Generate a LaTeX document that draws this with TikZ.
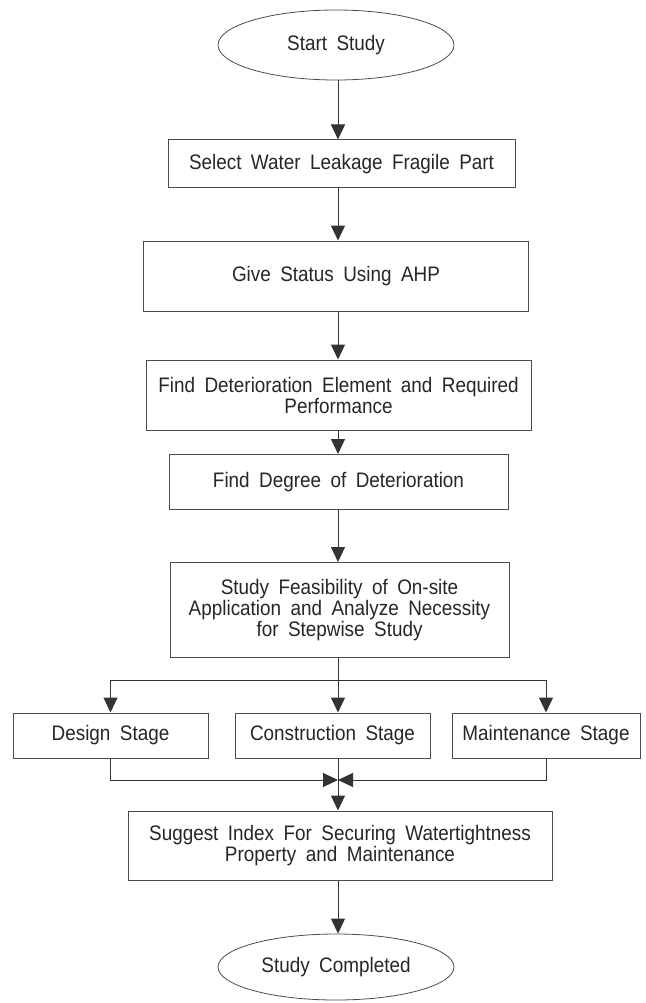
\documentclass[tikz,border=0pt]{standalone}
\usepackage{fontspec}
\setmainfont{Liberation Sans}[FakeStretch=0.9, WordSpace=1.8]
\usepackage{tikz}
\usetikzlibrary{arrows.meta, shapes.geometric, positioning}

\newcommand{\flowfont}{\fontsize{21}{21}\selectfont}

\begin{document}
\begin{tikzpicture}[x=1pt, y=-1pt, every node/.style={font=\flowfont, text=black!85},
    >={Triangle[length=15pt, width=14pt]},
    box/.style={draw=black!70, line width=1pt, align=center, inner sep=0pt},
    term/.style={draw=black!70, line width=0.8pt, ellipse, inner sep=0pt},
    link/.style={draw=black!80, line width=1pt}]
  \useasboundingbox (0,0) rectangle (645,1003);

  % Main column
  \node[term, minimum width=236pt, minimum height=70pt] (start) at (336,45) {Start Study};
  \node[box, minimum width=347pt, minimum height=48pt] (select) at (341.5,164) {Select Water Leakage Fragile Part};
  \node[box, minimum width=385pt, minimum height=70pt] (status) at (336,276) {Give Status Using AHP};
  \node[box, minimum width=385pt, minimum height=70pt] (element) at (338.5,395) {Find Deterioration Element and Required\\Performance};
  \node[box, minimum width=339pt, minimum height=55pt] (degree) at (338.5,482) {Find Degree of Deterioration};
  \node[box, minimum width=339pt, minimum height=95pt] (feasib) at (339.5,610) {Study Feasibility of On-site\\Application and Analyze Necessity\\for Stepwise Study};

  % Stages
  \node[box, minimum width=195pt, minimum height=45pt] (design) at (110.5,735.5) {Design Stage};
  \node[box, minimum width=195pt, minimum height=45pt] (construct) at (332.5,735.5) {Construction Stage};
  \node[box, minimum width=188pt, minimum height=45pt] (maint) at (546,735.5) {Maintenance Stage};

  \node[box, minimum width=424pt, minimum height=69pt] (suggest) at (340,845.5) {Suggest Index For Securing Watertightness\\Property and Maintenance};
  \node[term, minimum width=236pt, minimum height=66pt] (finish) at (336,967) {Study Completed};

  \coordinate (axis) at (338,0);
  \coordinate (fork) at (338,680);
  \coordinate (join) at (338,780);

  \draw[link, ->] (start.south -| axis) -- (select.north -| axis);
  \draw[link, ->] (select.south -| axis) -- (status.north -| axis);
  \draw[link, ->] (status.south -| axis) -- (element.north -| axis);
  \draw[link, ->] (element.south -| axis) -- (degree.north -| axis);
  \draw[link, ->] (degree.south -| axis) -- (feasib.north -| axis);
  \draw[link, ->] (feasib.south -| axis) -- (construct.north -| axis);
  \draw[link, ->] (fork) -| (design.north);
  \draw[link, ->] (fork) -| (maint.north);
  \draw[link, ->] (design.south) |- (join);
  \draw[link, ->] (maint.south) |- (join);
  \draw[link, ->] (construct.south -| join) -- (suggest.north -| join);
  \draw[link, ->] (suggest.south -| axis) -- (finish.north -| axis);
\end{tikzpicture}
\end{document}
